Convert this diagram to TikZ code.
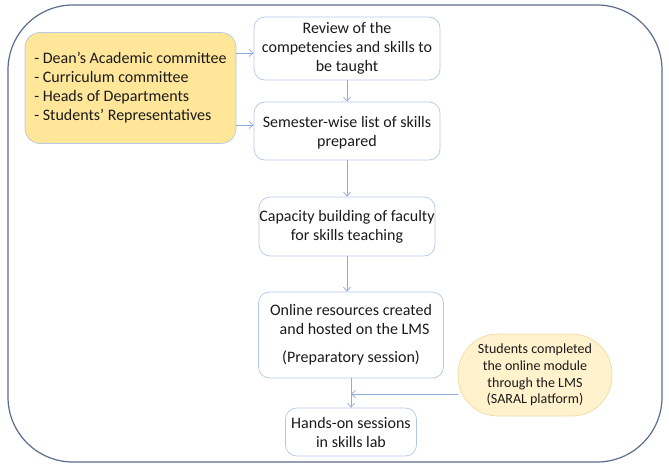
\documentclass[tikz,border=0pt]{standalone}
\usepackage{fontspec}
\setmainfont{Carlito}
\usepackage{tikz}
\usetikzlibrary{arrows.meta, positioning, shapes.geometric}

\definecolor{framec}{HTML}{5B6B8C}
\definecolor{linec}{HTML}{8FAADC}
\definecolor{boxc}{HTML}{B4C7E7}
\definecolor{deanc}{HTML}{FFE699}
\definecolor{studc}{HTML}{FFF2CC}
\definecolor{studb}{HTML}{EEDCA6}
\definecolor{txtc}{HTML}{1A1A1A}

\begin{document}
\begin{tikzpicture}[
        x=1pt, y=-1pt,
        >={Straight Barb[length=4pt, width=7pt]},
        box/.style={rectangle, rounded corners=11pt, draw=boxc, line width=0.7pt,
            align=center, inner sep=0pt, text=txtc,
            font=\fontsize{16}{19}\selectfont},
        e/.style={->, draw=linec, line width=0.7pt}
    ]
        \useasboundingbox (0,0) rectangle (669,469);
        \draw[framec, line width=1.2pt, rounded corners=65pt] (8,5) rectangle (662,462);

        \node[box, fill=deanc, align=left, rounded corners=15pt,
            minimum width=211pt, minimum height=111pt] (dean) at (130.5,88)
            {- Dean’s Academic committee\\- Curriculum committee\\- Heads of Departments\\- Students’ Representatives};

        \node[box, minimum width=186pt, minimum height=63pt] (rev) at (347,48.5)
            {Review of the\\competencies and skills to\\be taught};
        \node[box, minimum width=186pt, minimum height=58pt, text depth=-4pt] (sem) at (347,131)
            {Semester-wise list of skills\\prepared};
        \node[box, minimum width=176pt, minimum height=59pt] (cap) at (347,226.5)
            {Capacity building of faculty\\for skills teaching};
        \node[box, minimum width=185pt, minimum height=86pt] (onl) at (351,335)
            {Online resources created\\\ \ and hosted on the LMS\\[9pt](Preparatory session)};
        \node[box, minimum width=131pt, minimum height=48pt] (hands) at (351,432)
            {Hands-on sessions\\in skills lab};
        \node[box, fill=studc, draw=studb, rounded corners=40pt,
            font=\fontsize{14}{16.7}\selectfont,
            minimum width=154pt, minimum height=82pt] (stud) at (535,375)
            {Students completed\\the online module\\through the LMS\\(SARAL platform)};

        % flow down the middle
        \draw[e] (rev) -- (sem);
        \draw[e] (sem) -- (cap);
        \draw[e] (cap) -- (cap |- onl.north);
        \draw[e] (onl) -- (hands);

        % committees feed the first two steps
        \draw[e] ([yshift=-4.5pt]rev.west -| dean.east) -- ([yshift=-4.5pt]rev.west);
        \draw[e] ([yshift=6pt]sem.west -| dean.east) -- ([yshift=6pt]sem.west);

        % online module joins the line into the skills lab
        \draw[e] ([yshift=-19pt]stud.west) -- ([yshift=-19pt]stud.west -| onl.south);
    \end{tikzpicture}
\end{document}
